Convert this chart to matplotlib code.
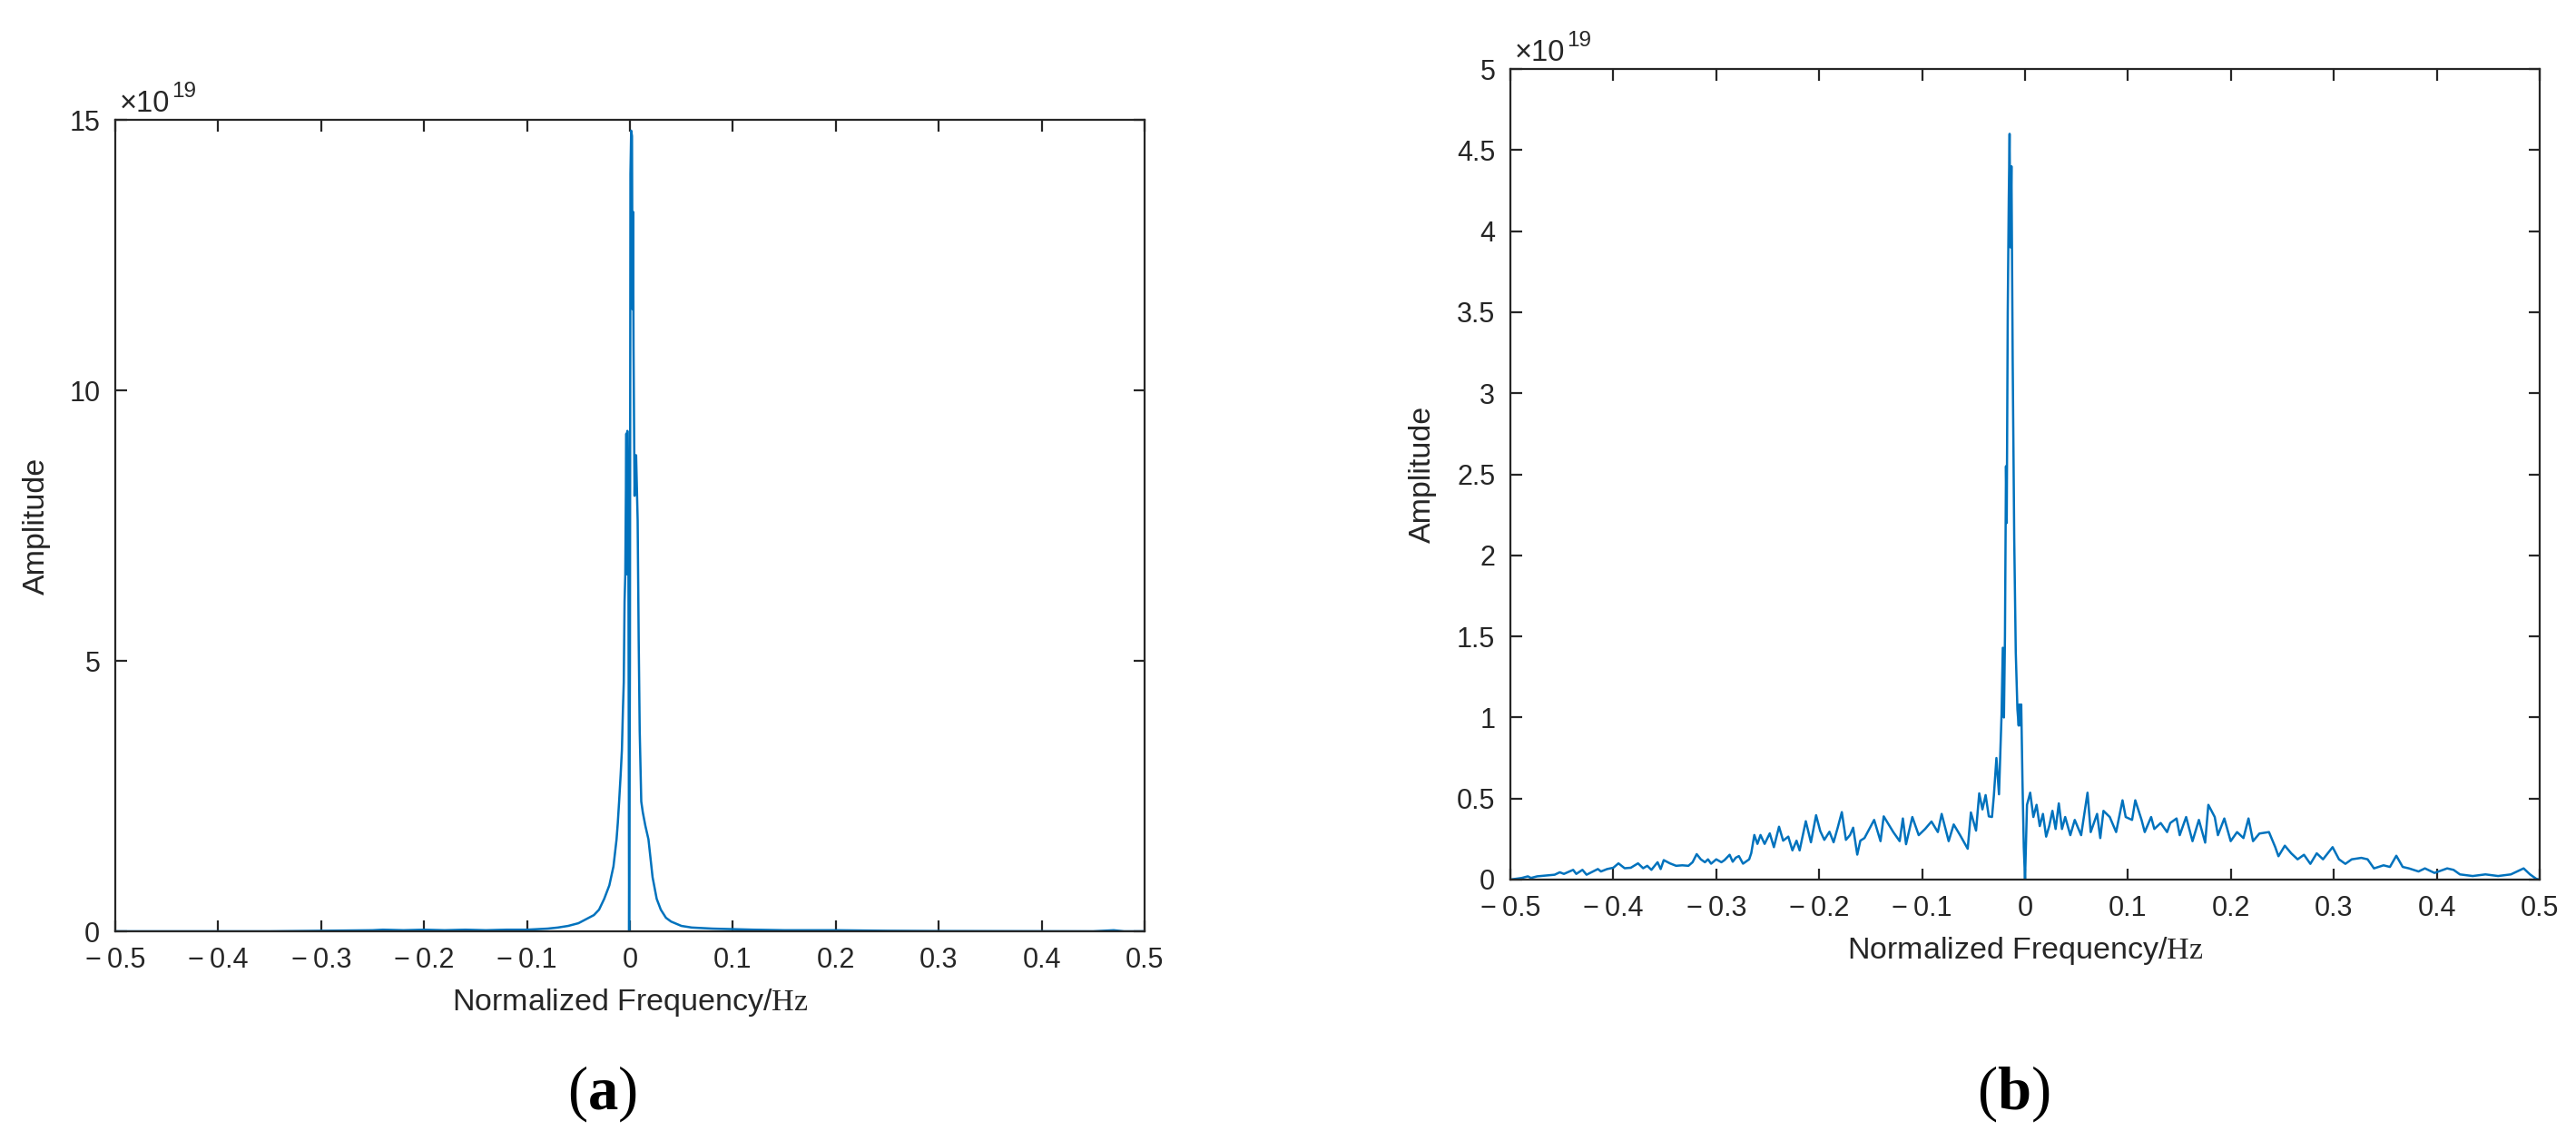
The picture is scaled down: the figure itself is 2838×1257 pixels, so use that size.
import matplotlib
matplotlib.use('Agg')
import matplotlib.pyplot as plt
from matplotlib.ticker import FixedLocator, FixedFormatter

plt.rcParams['font.family'] = ['Liberation Sans', 'DejaVu Sans']
plt.rcParams['mathtext.fontset'] = 'custom'
plt.rcParams['mathtext.rm'] = 'Liberation Serif'
plt.rcParams['mathtext.bf'] = 'Liberation Serif:bold'
plt.rcParams['mathtext.it'] = 'Liberation Serif:italic'

# ---------------- data ----------------
x_ticks = [-0.5, -0.4, -0.3, -0.2, -0.1, 0.0, 0.1, 0.2, 0.3, 0.4, 0.5]
x_tick_labels = ['\u2212\u20090.5', '\u2212\u20090.4', '\u2212\u20090.3', '\u2212\u20090.2',
                 '\u2212\u20090.1', '0', '0.1', '0.2', '0.3', '0.4', '0.5']
a_y_ticks = [0, 5, 10, 15]
a_y_tick_labels = ['0', '5', '10', '15']
b_y_ticks = [0, 0.5, 1, 1.5, 2, 2.5, 3, 3.5, 4, 4.5, 5]
b_y_tick_labels = ['0', '0.5', '1', '1.5', '2', '2.5', '3', '3.5', '4', '4.5', '5']

# panel (a): amplitude in units of 1e19
freq_a = [-0.5, -0.35, -0.3, -0.25, -0.24, -0.22, -0.2, -0.18, -0.16, -0.14, -0.12,
          -0.1, -0.09, -0.08, -0.07, -0.06, -0.05, -0.045, -0.04, -0.035, -0.03,
          -0.025, -0.02, -0.016, -0.013, -0.0118, -0.0105, -0.009, -0.0078, -0.0068,
          -0.006, -0.0052, -0.0045, -0.0035, -0.003, -0.0025, -0.0015, -0.0008,
          0.0, 0.0005, 0.0012, 0.002, 0.0025, 0.003, 0.0035, 0.0045, 0.005, 0.006,
          0.0075, 0.0085, 0.0095, 0.011, 0.0125, 0.015, 0.018, 0.022, 0.026, 0.03,
          0.035, 0.04, 0.05, 0.06, 0.08, 0.1, 0.12, 0.15, 0.2, 0.25, 0.3, 0.45,
          0.47, 0.48, 0.5]
amp_a = [0.0, 0.0, 0.01, 0.02, 0.03, 0.02, 0.03, 0.02, 0.03, 0.02, 0.03,
         0.03, 0.04, 0.05, 0.07, 0.1, 0.15, 0.2, 0.25, 0.3, 0.4,
         0.6, 0.85, 1.2, 1.7, 2.0, 2.4, 2.9, 3.35, 4.1,
         4.6, 6.1, 6.6, 9.2, 6.6, 9.25, 7.5, 0.0,
         5.0, 14.0, 14.8, 14.7, 11.5, 13.3, 10.8, 8.05, 8.8, 8.8,
         7.6, 5.4, 3.7, 2.4, 2.2, 1.95, 1.7, 1.0, 0.6, 0.4,
         0.25, 0.18, 0.1, 0.07, 0.05, 0.04, 0.03, 0.02, 0.02, 0.01, 0.005, 0.0,
         0.02, 0.0, 0.0]

# panel (b): amplitude in units of 1e19
freq_b = [-0.500, -0.489, -0.483, -0.480, -0.474, -0.465, -0.457, -0.452, -0.448, -0.439,
          -0.436, -0.430, -0.426, -0.418, -0.415, -0.412, -0.406, -0.400, -0.395, -0.389,
          -0.383, -0.376, -0.371, -0.367, -0.363, -0.357, -0.354, -0.351, -0.345, -0.339,
          -0.333, -0.327, -0.323, -0.319, -0.315, -0.311, -0.308, -0.305, -0.300, -0.295,
          -0.292, -0.287, -0.284, -0.281, -0.278, -0.274, -0.268, -0.266, -0.263, -0.260,
          -0.257, -0.253, -0.248, -0.244, -0.239, -0.235, -0.230, -0.226, -0.222, -0.219,
          -0.213, -0.208, -0.203, -0.199, -0.195, -0.190, -0.186, -0.182, -0.178, -0.174,
          -0.170, -0.167, -0.163, -0.160, -0.156, -0.1466, -0.1404, -0.1373, -0.128, -0.1218,
          -0.1187, -0.1156, -0.1095, -0.1033, -0.0971, -0.0909, -0.0847, -0.081, -0.0742, -0.0693,
          -0.0631, -0.0557, -0.0526, -0.0476, -0.0445, -0.0414, -0.0383, -0.0352, -0.0321, -0.0303,
          -0.0278, -0.0253, -0.0228, -0.0216, -0.0205, -0.0195, -0.0185, -0.0178, -0.0168, -0.0158,
          -0.0150, -0.0142, -0.0132, -0.0120, -0.0105, -0.0090, -0.0074, -0.0062, -0.0055, -0.0043,
          -0.0037, -0.0025, -0.0012, 0.0000, 0.0019, 0.0050, 0.0081, 0.0112, 0.0143, 0.0174,
          0.0205, 0.0235, 0.0266, 0.0297, 0.0328, 0.0359, 0.0390, 0.0440, 0.0483, 0.0545,
          0.0607, 0.0638, 0.0700, 0.0731, 0.0762, 0.0823, 0.0885, 0.0947, 0.0978, 0.1040,
          0.1071, 0.1132, 0.1163, 0.1225, 0.1256, 0.1318, 0.1380, 0.1411, 0.1472, 0.1503,
          0.1565, 0.1627, 0.1689, 0.1750, 0.1781, 0.1843, 0.1874, 0.1936, 0.1998, 0.2060,
          0.2122, 0.2171, 0.2215, 0.2277, 0.2370, 0.2431, 0.2462, 0.2524, 0.2586, 0.2648,
          0.2710, 0.2772, 0.2834, 0.2895, 0.2988, 0.3050, 0.3112, 0.3174, 0.3267, 0.3328,
          0.3390, 0.3483, 0.3545, 0.3607, 0.3669, 0.3730, 0.3823, 0.3885, 0.3978, 0.4101,
          0.4163, 0.4225, 0.4349, 0.4473, 0.4596, 0.4720, 0.4844, 0.4906, 0.4968, 0.5000]
amp_b = [0.000, 0.010, 0.020, 0.010, 0.020, 0.025, 0.030, 0.045, 0.035, 0.060,
         0.035, 0.060, 0.030, 0.055, 0.065, 0.050, 0.065, 0.073, 0.100, 0.070,
         0.073, 0.100, 0.070, 0.085, 0.060, 0.107, 0.065, 0.120, 0.100, 0.085,
         0.088, 0.085, 0.107, 0.157, 0.125, 0.107, 0.125, 0.098, 0.125, 0.107,
         0.120, 0.153, 0.110, 0.135, 0.145, 0.098, 0.125, 0.163, 0.275, 0.220,
         0.275, 0.220, 0.285, 0.200, 0.326, 0.240, 0.265, 0.180, 0.240, 0.180,
         0.360, 0.230, 0.397, 0.300, 0.245, 0.295, 0.230, 0.320, 0.416, 0.245,
         0.275, 0.320, 0.154, 0.240, 0.256, 0.368, 0.237, 0.390, 0.293, 0.237,
         0.377, 0.218, 0.386, 0.274, 0.312, 0.358, 0.293, 0.405, 0.237, 0.340,
         0.274, 0.190, 0.414, 0.302, 0.532, 0.433, 0.521, 0.390, 0.386, 0.517,
         0.750, 0.526, 1.020, 1.430, 1.000, 1.500, 2.550, 2.200, 3.500, 4.200,
         4.600, 3.900, 4.400, 3.200, 2.100, 1.400, 1.050, 0.950, 1.080, 0.950,
         1.080, 0.610, 0.200, 0.000, 0.461, 0.536, 0.386, 0.461, 0.330, 0.405,
         0.265, 0.330, 0.424, 0.312, 0.470, 0.312, 0.386, 0.274, 0.368, 0.274,
         0.536, 0.293, 0.405, 0.256, 0.424, 0.386, 0.293, 0.489, 0.386, 0.368,
         0.489, 0.368, 0.293, 0.386, 0.312, 0.349, 0.293, 0.349, 0.377, 0.274,
         0.386, 0.237, 0.368, 0.228, 0.461, 0.386, 0.274, 0.377, 0.237, 0.293,
         0.256, 0.377, 0.237, 0.284, 0.293, 0.200, 0.144, 0.209, 0.162, 0.125,
         0.153, 0.097, 0.162, 0.125, 0.200, 0.125, 0.097, 0.125, 0.134, 0.125,
         0.069, 0.088, 0.078, 0.147, 0.078, 0.069, 0.050, 0.069, 0.041, 0.069,
         0.060, 0.032, 0.022, 0.032, 0.022, 0.032, 0.069, 0.032, 0.004, 0.000]

# ---------------- styling ----------------
W, H = 2838, 1257
LINE_COLOR = '#0072BD'
AX_COLOR = '#262626'
TICK_FS = 22
LABEL_FS = 24.5

fig = plt.figure(figsize=(W / 100, H / 100), dpi=100)


def make_axes(left_px, top_px, width_px, height_px):
    return fig.add_axes([left_px / W, 1 - (top_px + height_px) / H, width_px / W, height_px / H])


def style_axes(ax, yticks, ylabels, ylim, ylabel_x):
    ax.set_xlim(-0.5, 0.5)
    ax.set_ylim(*ylim)
    ax.xaxis.set_major_locator(FixedLocator(x_ticks))
    ax.xaxis.set_major_formatter(FixedFormatter(x_tick_labels))
    ax.yaxis.set_major_locator(FixedLocator(yticks))
    ax.yaxis.set_major_formatter(FixedFormatter(ylabels))
    ax.tick_params(direction='in', length=9, width=1.6, colors=AX_COLOR,
                   labelsize=TICK_FS, top=True, right=True)
    ax.tick_params(axis='x', pad=12)
    ax.tick_params(axis='y', pad=12)
    for s in ax.spines.values():
        s.set_color(AX_COLOR)
        s.set_linewidth(1.6)
    ax.set_xlabel('Normalized Frequency/$\\mathrm{Hz}$', fontsize=LABEL_FS, color=AX_COLOR)
    ax.xaxis.label.set_va('baseline')
    ax.xaxis.set_label_coords(0.5, -0.0973)
    ax.set_ylabel('Amplitude', fontsize=LABEL_FS, color=AX_COLOR)
    ax.yaxis.label.set_va('center')
    ax.yaxis.set_label_coords(ylabel_x, 0.5)
    t = ax.text(0.004, 1.010, '\u00d710', transform=ax.transAxes, fontsize=23.5,
                color=AX_COLOR, va='baseline', ha='left')
    ax.annotate('19', xy=(1, 1), xycoords=t, xytext=(1.5, -5.5),
                textcoords='offset points', fontsize=17.5, color=AX_COLOR,
                va='baseline', ha='left')


ax_a = make_axes(127, 132, 1134, 894)
ax_a.plot(freq_a, amp_a, color=LINE_COLOR, lw=1.8)
style_axes(ax_a, a_y_ticks, a_y_tick_labels, (0, 15), -0.0767)

ax_b = make_axes(1664, 76, 1134, 893)
ax_b.plot(freq_b, amp_b, color=LINE_COLOR, lw=1.8)
style_axes(ax_b, b_y_ticks, b_y_tick_labels, (0, 5), -0.0855)

fig.text(663 / W, 1 - 1222 / H, '($\\mathbf{a}$)', fontsize=48, family='Liberation Serif',
         ha='center', va='baseline', color='black')
fig.text(2218 / W, 1 - 1222 / H, '($\\mathbf{b}$)', fontsize=48, family='Liberation Serif',
         ha='center', va='baseline', color='black')

fig.savefig('out.png', dpi=100)
